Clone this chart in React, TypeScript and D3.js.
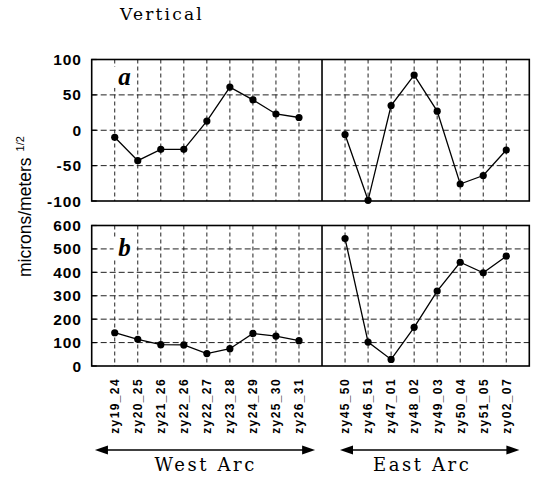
import * as d3 from "d3";

const westStations = ["zy19_24", "zy20_25", "zy21_26", "zy22_26", "zy22_27", "zy23_28", "zy24_29", "zy25_30", "zy26_31"];
const eastStations = ["zy45_50", "zy46_51", "zy47_01", "zy48_02", "zy49_03", "zy50_04", "zy51_05", "zy02_07"];

// panel a: vertical residuals (microns/m^1/2)
const westA = [-10, -43, -27, -27, 13, 61, 43, 23, 18];
const eastA = [-6, -99, 35, 78, 27, -76, -64, -28];
// panel b
const westB = [142, 114, 91, 90, 53, 74, 139, 128, 108];
const eastB = [544, 102, 28, 165, 320, 443, 398, 469];

const ticksA = [100, 50, 0, -50, -100];
const ticksB = [600, 500, 400, 300, 200, 100, 0];

const W = 535;
const H = 481;

// index positions: west 1..9, gap at 10, east 11..18
const x = d3.scaleLinear().domain([0, 19]).range([91.7, 529.3]);
const westX = westStations.map((_, i) => i + 1);
const eastX = eastStations.map((_, i) => i + 11);

const yA = d3.scaleLinear().domain([-100, 100]).range([201, 59.5]);
const yB = d3.scaleLinear().domain([0, 600]).range([366, 225.5]);

const line = (xs: number[], ys: number[], y: d3.ScaleLinear<number, number>) =>
  d3
    .line<number>()
    .x((_, i) => x(xs[i]))
    .y((v) => y(v))(ys) || "";

function Panel({
  y,
  ticks,
  west,
  east,
  letter,
  letterVal,
}: {
  y: d3.ScaleLinear<number, number>;
  ticks: number[];
  west: number[];
  east: number[];
  letter: string;
  letterVal: number;
}) {
  const [y0, y1] = y.range();
  const top = Math.min(y0, y1);
  const bottom = Math.max(y0, y1);
  const inner = ticks.slice(1, -1);
  return (
    <g>
      {/* horizontal grid */}
      {inner.map((t) => (
        <line
          key={"h" + t}
          x1={x(0)}
          x2={x(19)}
          y1={y(t)}
          y2={y(t)}
          stroke="#222"
          strokeWidth={1}
          strokeDasharray="6,3"
        />
      ))}
      {/* vertical grid at stations */}
      {[...westX, ...eastX].map((v) => (
        <line
          key={"v" + v}
          x1={x(v)}
          x2={x(v)}
          y1={top}
          y2={bottom}
          stroke="#222"
          strokeWidth={1}
          strokeDasharray="4,3"
        />
      ))}
      {/* letter with white backing */}
      <rect x={x(0.95)} y={y(letterVal) - 11} width={22} height={21} fill="#fff" />
      <text
        x={x(1.15)}
        y={y(letterVal) + 7}
        fontFamily="Liberation Serif"
        fontStyle="italic"
        fontWeight="bold"
        fontSize={25}
      >
        {letter}
      </text>
      {/* frame + separator */}
      <rect x={x(0)} y={top} width={x(19) - x(0)} height={bottom - top} fill="none" stroke="#000" strokeWidth={1.6} />
      <line x1={x(10)} x2={x(10)} y1={top} y2={bottom} stroke="#000" strokeWidth={1.6} />
      {/* y ticks */}
      {ticks.map((t) => (
        <g key={"t" + t}>
          <line x1={x(0)} x2={x(0) + 5} y1={y(t)} y2={y(t)} stroke="#000" strokeWidth={1.2} />
          <text
            x={82}
            y={y(t)}
            dy="0.36em"
            textAnchor="end"
            fontFamily="Liberation Sans"
            fontWeight="bold"
            fontSize={15.5}
            letterSpacing={1}
          >
            {t}
          </text>
        </g>
      ))}
      {/* data */}
      <path d={line(westX, west, y)} fill="none" stroke="#000" strokeWidth={1.3} />
      <path d={line(eastX, east, y)} fill="none" stroke="#000" strokeWidth={1.3} />
      {west.map((v, i) => (
        <circle key={"w" + i} cx={x(westX[i])} cy={y(v)} r={3.6} fill="#000" />
      ))}
      {east.map((v, i) => (
        <circle key={"e" + i} cx={x(eastX[i])} cy={y(v)} r={3.6} fill="#000" />
      ))}
    </g>
  );
}

function Arrow({ from, to, yy }: { from: number; to: number; yy: number }) {
  const a = x(from);
  const b = x(to);
  return (
    <g>
      <line x1={a + 8} x2={b - 8} y1={yy} y2={yy} stroke="#000" strokeWidth={1.6} />
      <path d={`M${a},${yy} L${a + 13},${yy - 4.5} L${a + 13},${yy + 4.5} Z`} fill="#000" />
      <path d={`M${b},${yy} L${b - 13},${yy - 4.5} L${b - 13},${yy + 4.5} Z`} fill="#000" />
    </g>
  );
}

export default function App() {
  const stations = [...westStations.map((s, i) => [s, westX[i]] as const), ...eastStations.map((s, i) => [s, eastX[i]] as const)];
  return (
    <svg width={W} height={H} style={{ position: "absolute", left: 0, top: 0, background: "#fff" }}>
      <text x={120} y={20} fontFamily="DejaVu Serif" fontSize={17} letterSpacing={2.2}>
        Vertical
      </text>

      <Panel y={yA} ticks={ticksA} west={westA} east={eastA} letter="a" letterVal={74} />
      <Panel y={yB} ticks={ticksB} west={westB} east={eastB} letter="b" letterVal={500} />

      {/* y label */}
      <text
        transform="translate(31,277) rotate(-90)"
        fontFamily="Liberation Sans"
        fontSize={17.5}
      >
        microns/meters
        <tspan fontSize={11} dx={6} dy={-7}>
          1/2
        </tspan>
      </text>

      {/* station labels */}
      {stations.map(([s, v]) => (
        <text
          key={s}
          transform={`translate(${x(v)},378) rotate(-90)`}
          textAnchor="end"
          dy="0.36em"
          fontFamily="Liberation Sans"
          fontWeight="bold"
          fontSize={12}
          letterSpacing={1.4}
        >
          {s}
        </text>
      ))}

      <Arrow from={0.14} to={9.7} yy={450} />
      <Arrow from={10.78} to={18.57} yy={450} />

      <text x={x(4.95)} y={471} textAnchor="middle" fontFamily="DejaVu Serif" fontSize={18} letterSpacing={2.6}>
        West Arc
      </text>
      <text x={x(14.35)} y={471} textAnchor="middle" fontFamily="DejaVu Serif" fontSize={18} letterSpacing={2.6}>
        East Arc
      </text>
    </svg>
  );
}
